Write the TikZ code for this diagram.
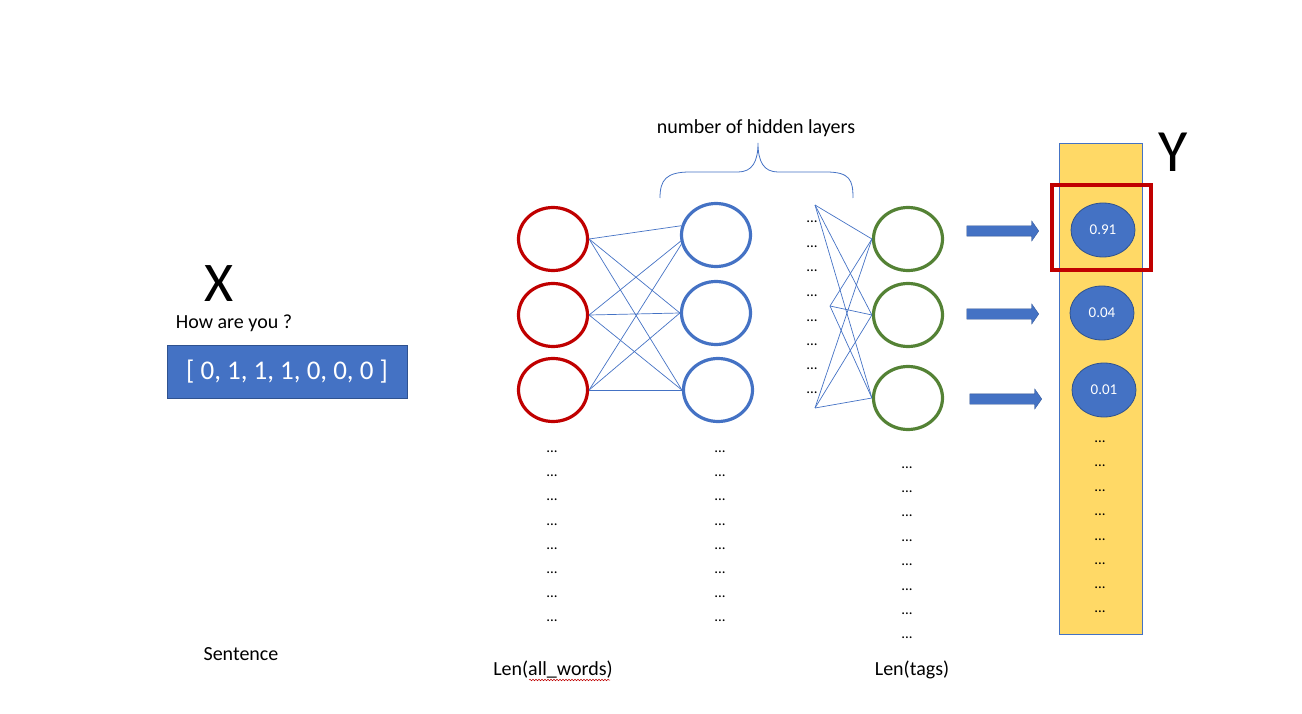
\documentclass[tikz,border=0pt]{standalone}
\usepackage{fontspec}
\setmainfont{Carlito}
\usetikzlibrary{shapes.geometric,shapes.arrows,decorations.pathmorphing}
\definecolor{nred}{HTML}{C00000}
\definecolor{nblue}{HTML}{4472C4}
\definecolor{ngreen}{HTML}{548235}
\definecolor{ngold}{HTML}{FFD966}
\definecolor{nblueb}{HTML}{2F528F}
\tikzset{
  neuron/.style={ellipse,draw,line width=3.2pt,minimum width=69pt,minimum height=63pt,inner sep=0pt},
  inred/.style={neuron,draw=nred},
  hidblue/.style={neuron,draw=nblue},
  outgreen/.style={neuron,draw=ngreen},
  wire/.style={draw=nblue,line width=0.7pt},
  dotsl/.style={font=\fontsize{15}{15}\selectfont,inner sep=0pt},
  lbl/.style={font=\fontsize{20}{23}\selectfont,inner sep=0pt},
  prob/.style={ellipse,fill=nblue,draw=nblueb,line width=0.8pt,minimum width=64pt,minimum height=54pt,inner sep=0pt,text=white,font=\fontsize{15}{15}\selectfont},
  barrow/.style={single arrow,fill=nblue,draw=nblueb,line width=0.3pt,minimum height=72pt,inner xsep=0pt,inner ysep=5pt,single arrow head extend=5pt,single arrow tip angle=110}
}
\begin{document}
\begin{tikzpicture}[x=1pt,y=-1pt]
\useasboundingbox (0,0) rectangle (1302,714);
% input
\node[font=\fontsize{56}{56}\selectfont,inner sep=0pt] (X) at (219,284) {X};
\node[lbl] (how) at (234,323) {How are you ?};
\node[fill=nblue,draw=nblueb,line width=0.6pt,minimum width=240pt,minimum height=53pt,inner sep=0pt,text=white,font=\fontsize{27}{27}\selectfont] (vec) at (287,371.5) {[ 0, 1, 1, 1, 0, 0, 0 ]};
\node[lbl] (sent) at (241,654) {Sentence};
% layers
\node[inred] (r1) at (553,239) {};
\node[inred] (r2) at (553,315) {};
\node[inred] (r3) at (553,390) {};
\node[hidblue] (b1) at (716,235) {};
\node[hidblue] (b2) at (716,313) {};
\node[hidblue] (b3) at (718,390) {};
\node[outgreen] (g1) at (908,239) {};
\node[outgreen] (g2) at (908,315) {};
\node[outgreen] (g3) at (908,398) {};
% wires red -> blue
\draw[wire] (r1.east) -- (b1.165);
\draw[wire] (r1.east) -- (b2.west);
\draw[wire] (r1.east) -- (b3.west);
\draw[wire] (r2.east) -- (b1.190);
\draw[wire] (r2.east) -- (b2.west);
\draw[wire] (r2.east) -- (b3.west);
\draw[wire] (r3.east) -- (b1.195);
\draw[wire] (r3.east) -- (b2.west);
\draw[wire] (r3.east) -- (b3.west);
% fan points
\coordinate (h1) at (815,205);
\coordinate (h2) at (830,306);
\coordinate (h3) at (815,408);
\foreach \h in {h1,h2,h3}{
  \foreach \g in {g1,g2,g3}{
    \draw[wire] (\h) -- (\g.west);
  }
}
% dots
\foreach \i [count=\k] in {222,247,271,296,321,345,369,393}{
  \node[dotsl] (hd\k) at (812,\i) {...};
}
\foreach \i [count=\k] in {452,476,500,525,549,573,597,621}{
  \node[dotsl] (rd\k) at (552,\i) {...};
  \node[dotsl] (bd\k) at (720,\i) {...};
}
\foreach \i [count=\k] in {468,492,516,541,565,590,614,638}{
  \node[dotsl] (gd\k) at (907,\i) {...};
}
% brace
\draw[draw=nblue,line width=0.8pt] (660,198) .. controls (660,180) and (666,172) .. (690,172) -- (738,172) .. controls (752,172) and (758,162) .. (758,143)
  .. controls (758,162) and (764,172) .. (778,172) -- (826,172) .. controls (850,172) and (853,180) .. (853,198);
\node[lbl] (nhl) at (756,128) {number of hidden layers};
% labels
\node[lbl] (law) at (553,670) {Len(all\_words)};
\draw[nred,line width=0.5pt,decorate,decoration={snake,segment length=3pt,amplitude=0.8pt}] (529,680) -- (610,680);
\node[lbl] (lt) at (912,670) {Len(tags)};
% output
\node[fill=ngold,draw=nblue,line width=0.8pt,minimum width=83pt,minimum height=491pt,inner sep=0pt] (ybar) at (1100.5,388.5) {};
\node[font=\fontsize{60}{60}\selectfont,inner sep=0pt] (Y) at (1173,152) {Y};
\node[prob] (p1) at (1103,230) {0.91};
\node[prob] (p2) at (1102,313) {0.04};
\node[prob] (p3) at (1104,390) {0.01};
\foreach \i [count=\k] in {442,466,491,515,540,564,588,612}{
  \node[dotsl] (yd\k) at (1100,\i) {...};
}
\node[draw=nred,line width=4pt,minimum width=99pt,minimum height=85pt,inner sep=0pt] (sel) at (1101,228) {};
% arrows
\node[barrow] (a1) at (1001,231) {};
\node[barrow] (a2) at (1001,314) {};
\node[barrow] (a3) at (1004,399) {};
\end{tikzpicture}
\end{document}
